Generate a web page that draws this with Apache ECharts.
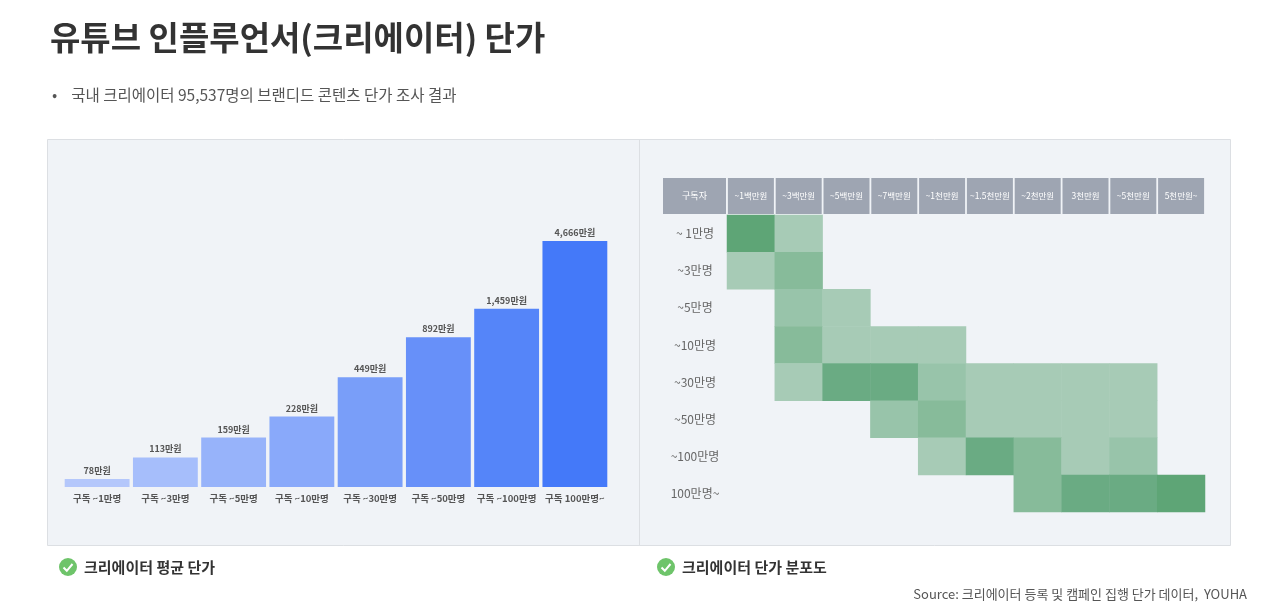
<!DOCTYPE html>
<html>
<head>
<meta charset="utf-8">
<script src="https://cdn.jsdelivr.net/npm/echarts@6/dist/echarts.min.js"></script>
<style>
  html, body { margin: 0; padding: 0; background: #fff; }
  #main { width: 1278px; height: 602px; }
</style>
</head>
<body>
<div id="main"></div>
<script>
// 구독자 구간별 평균 단가 (만원)
var barCats = ['구독 ~1만명', '구독 ~3만명', '구독 ~5만명', '구독 ~10만명', '구독 ~30만명', '구독 ~50만명', '구독 ~100만명', '구독 100만명~'];
var barVals = [78, 113, 159, 228, 449, 892, 1459, 4666];
var barColors = ['#b4c7fb', '#a6befb', '#97b3fa', '#89a9fa', '#799ef9', '#6790f9', '#5585f9', '#4479f9'];

// 단가 분포도
var priceCats = ['~1백만원', '~3백만원', '~5백만원', '~7백만원', '~1천만원', '~1.5천만원', '~2천만원', '3천만원', '~5천만원', '5천만원~'];
var subCats = ['~ 1만명', '~3만명', '~5만명', '~10만명', '~30만명', '~50만명', '~100만명', '100만명~'];
// 행 = 구독자 구간, 열 = 단가 구간, 0 = 없음, 1~5 = 농도
var levels = [
  [5, 1, 0, 0, 0, 0, 0, 0, 0, 0],
  [1, 3, 0, 0, 0, 0, 0, 0, 0, 0],
  [0, 2, 1, 0, 0, 0, 0, 0, 0, 0],
  [0, 3, 1, 1, 1, 0, 0, 0, 0, 0],
  [0, 1, 4, 4, 2, 1, 1, 1, 1, 0],
  [0, 0, 0, 2, 3, 1, 1, 1, 1, 0],
  [0, 0, 0, 0, 1, 4, 3, 1, 2, 0],
  [0, 0, 0, 0, 0, 0, 3, 4, 4, 5]
];
var levelColors = ['#a7cbb6', '#98c4aa', '#87bb9a', '#6aab83', '#5ea576'];

var heatData = [];
for (var r = 0; r < levels.length; r++) {
  for (var c = 0; c < levels[r].length; c++) {
    if (levels[r][c] > 0) heatData.push([c, r, levels[r][c]]);
  }
}

var font = '"Noto Sans CJK KR", "Noto Sans", sans-serif';
var chart = echarts.init(document.getElementById('main'));

function checkIcon(cx, cy) {
  return {
    type: 'group',
    children: [
      { type: 'circle', shape: { cx: cx, cy: cy, r: 9 }, style: { fill: '#6ec46a' } },
      { type: 'polyline', shape: { points: [[cx - 4.5, cy + 0.5], [cx - 1.2, cy + 3.8], [cx + 4.5, cy - 3]] },
        style: { stroke: '#fff', lineWidth: 2, fill: null } }
    ]
  };
}

var option = {
  backgroundColor: '#fff',
  textStyle: { fontFamily: font },
  title: [
    { text: '유튜브 인플루언서(크리에이터) 단가', left: 45, top: 16,
      textStyle: { fontSize: 33, fontWeight: 'bold', color: '#333', fontFamily: font } },
    { text: '•    국내 크리에이터 95,537명의 브랜디드 콘텐츠 단가 조사 결과', left: 47, top: 82,
      textStyle: { fontSize: 15.5, fontWeight: 'normal', color: '#555', fontFamily: font } }
  ],
  graphic: [
    { type: 'rect', z: -10, shape: { x: 47.5, y: 139.5, width: 1183, height: 406 },
      style: { fill: '#f0f3f7', stroke: '#dcdfe3', lineWidth: 1 } },
    { type: 'line', z: -9, shape: { x1: 639.5, y1: 140, x2: 639.5, y2: 545 },
      style: { stroke: '#dcdfe3', lineWidth: 1 } },
    { type: 'rect', shape: { x: 663, y: 178, width: 63, height: 36 }, style: { fill: '#9ea5b2' } },
    { type: 'text', x: 694.5, y: 196, style: { text: '구독자', fill: '#fff', fontSize: 9, fontFamily: font,
      align: 'center', verticalAlign: 'middle' } },
    checkIcon(68, 567),
    { type: 'text', x: 84, y: 567, style: { text: '크리에이터 평균 단가', fill: '#333', fontSize: 15, fontWeight: 'bold',
      fontFamily: font, verticalAlign: 'middle' } },
    checkIcon(666, 567),
    { type: 'text', x: 682, y: 567, style: { text: '크리에이터 단가 분포도', fill: '#333', fontSize: 15, fontWeight: 'bold',
      fontFamily: font, verticalAlign: 'middle' } },
    { type: 'text', x: 1247, y: 594, style: { text: 'Source: 크리에이터 등록 및 캠페인 집행 단가 데이터,  YOUHA', fill: '#555',
      fontSize: 13, fontFamily: font, align: 'right', verticalAlign: 'middle' } }
  ],
  grid: [
    { left: 63, width: 546, top: 237, height: 250 },
    { left: 727, width: 478, top: 215, height: 297 }
  ],
  xAxis: [
    { type: 'category', gridIndex: 0, data: barCats,
      axisLine: { show: false }, axisTick: { show: false },
      axisLabel: { color: '#555', fontSize: 9.5, fontWeight: 'bold', margin: 7, interval: 0 } },
    { type: 'category', gridIndex: 1, data: priceCats, position: 'top',
      axisLine: { show: false }, axisTick: { show: false }, splitLine: { show: false },
      axisLabel: { interval: 0, color: '#fff', fontSize: 8.5, margin: 1, backgroundColor: '#9ea5b2',
        width: 46, height: 36, lineHeight: 36, align: 'center' } }
  ],
  yAxis: [
    { type: 'log', gridIndex: 0, min: 68, max: 5000, logBase: 10,
      axisLine: { show: false }, axisTick: { show: false }, axisLabel: { show: false }, splitLine: { show: false } },
    { type: 'category', gridIndex: 1, data: subCats, inverse: true,
      axisLine: { show: false }, axisTick: { show: false }, splitLine: { show: false },
      axisLabel: { color: '#666', fontSize: 12, margin: 32, align: 'center' } }
  ],
  visualMap: {
    type: 'piecewise', show: false, seriesIndex: 1, dimension: 2,
    pieces: levelColors.map(function (col, i) { return { value: i + 1, color: col }; })
  },
  series: [
    { type: 'bar', xAxisIndex: 0, yAxisIndex: 0, barCategoryGap: '5%',
      data: barVals.map(function (v, i) { return { value: v, itemStyle: { color: barColors[i] } }; }),
      label: { show: true, position: 'top', distance: 4, color: '#555', fontSize: 9, fontWeight: 'bold',
        formatter: function (p) { return p.value.toLocaleString('en-US') + '만원'; } } },
    { type: 'heatmap', xAxisIndex: 1, yAxisIndex: 1, data: heatData,
      itemStyle: { borderWidth: 0 }, emphasis: { disabled: true } }
  ]
};
chart.setOption(option);
</script>
</body>
</html>
